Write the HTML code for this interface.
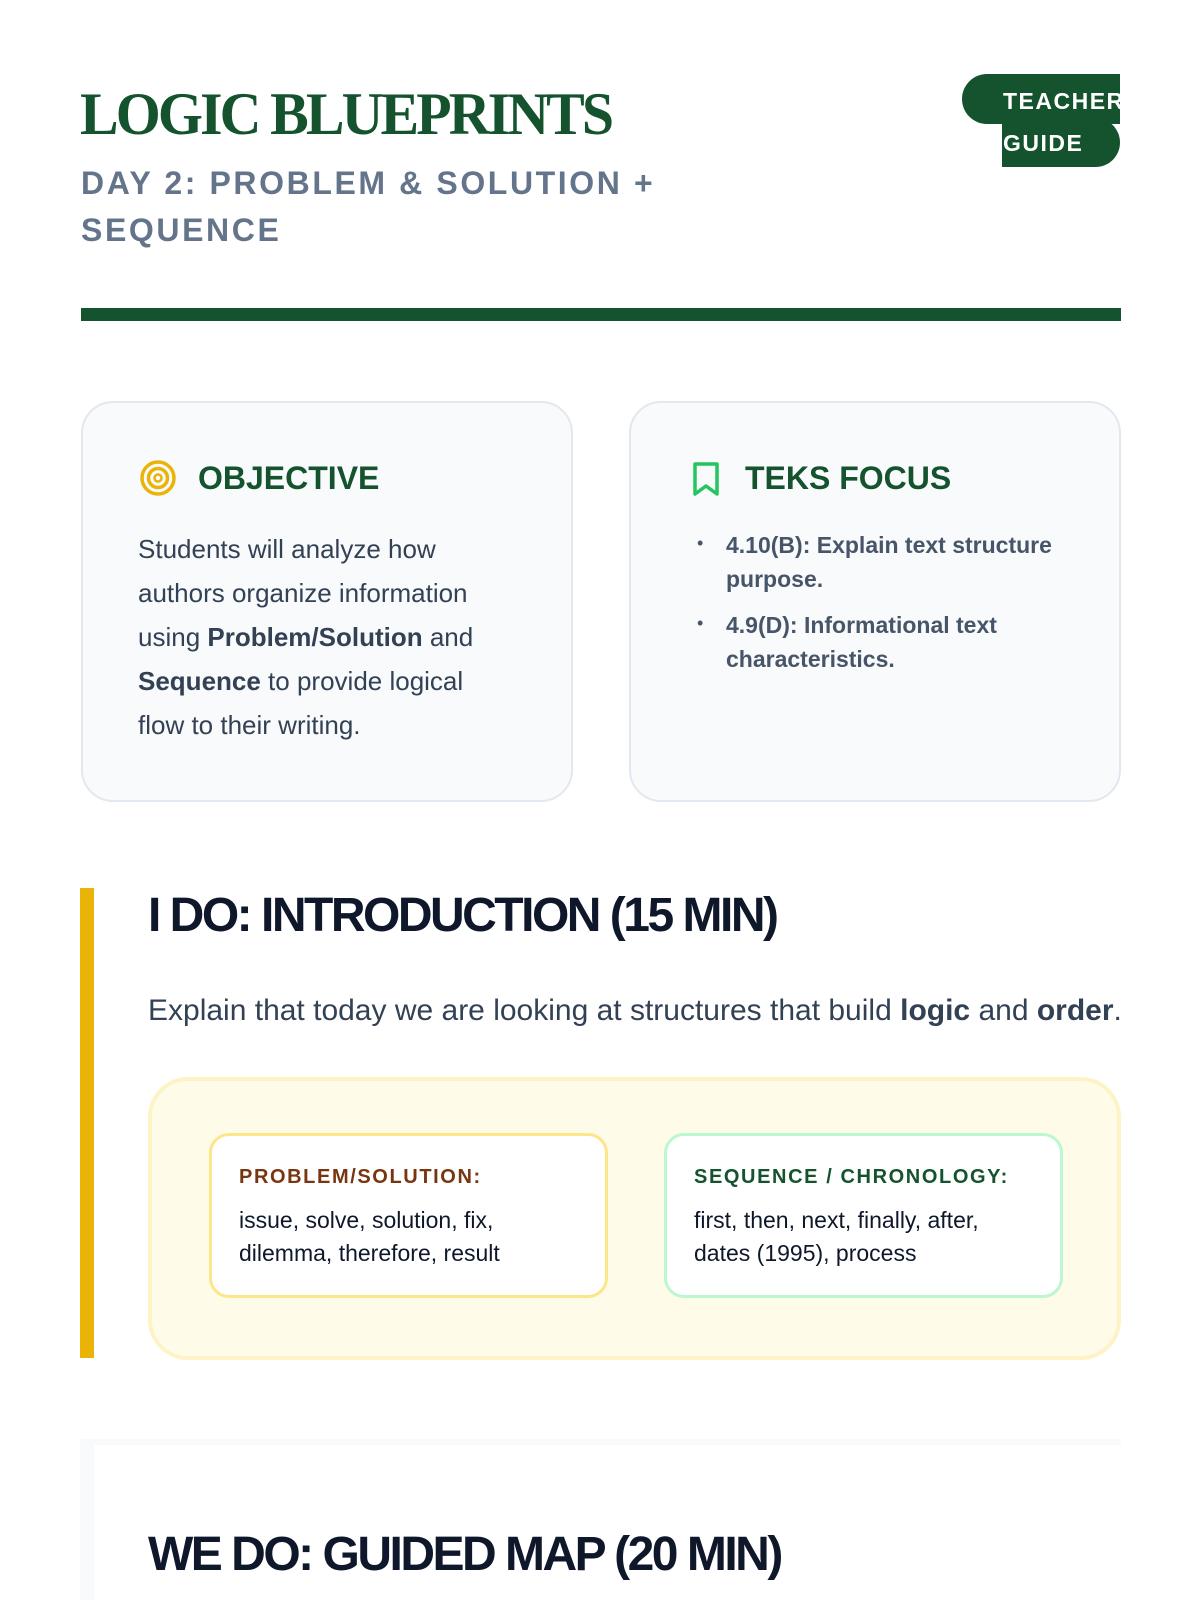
<!DOCTYPE html>
<html><head><meta charset="utf-8"><style>
*{margin:0;padding:0;box-sizing:border-box}
body{width:1200px;height:1600px;background:#fff;position:relative;overflow:hidden;font-family:"Liberation Sans",sans-serif}
.a{position:absolute;white-space:nowrap}
.title{left:80px;top:80px;font-family:"Liberation Serif",serif;font-weight:bold;font-size:60px;color:#14532d;letter-spacing:-3px;transform:scaleX(0.965);transform-origin:left}
.sub{left:81px;font-size:32px;font-weight:bold;color:#64748b;letter-spacing:2.6px}
.card{position:absolute;top:401px;width:492px;height:401px;background:#f8fafc;border:2px solid #e2e8f0;border-radius:32px}
.ch{position:absolute;top:57px;font-size:32px;font-weight:bold;color:#14532d}
.body{font-size:26px;color:#334155;line-height:44px}
.h2{font-size:48px;font-weight:bold;color:#0f172a;letter-spacing:-2.5px}
.ic{position:absolute;top:1133px;width:399px;height:165px;background:#fff;border-radius:20px;border:3px solid #fde68a}
.lab{position:absolute;left:27px;top:30px;font-size:20px;font-weight:bold;letter-spacing:1.6px}
.it{position:absolute;left:27px;top:68px;font-size:23px;color:#0f172a;line-height:33px}
</style></head><body>
<div class="a title">LOGIC BLUEPRINTS</div>
<div class="a sub" style="top:165px">DAY 2: PROBLEM &amp; SOLUTION +</div>
<div class="a sub" style="top:212px">SEQUENCE</div>
<div class="a" style="left:962px;top:74px;width:158px;height:50px;background:#14532d;border-radius:25px 0 0 25px"></div>
<div class="a" style="left:1002px;top:118px;width:118px;height:49px;background:#14532d;border-radius:0 25px 25px 0"></div>
<div class="a" style="left:1003px;top:80px;font-size:23px;font-weight:bold;color:#fff;letter-spacing:1.5px;line-height:42px">TEACHER<br>GUIDE</div>
<div class="a" style="left:81px;top:308px;width:1040px;height:13px;background:#14532d"></div>

<div class="card" style="left:81px">
  <svg class="a" style="left:56px;top:56px" width="38" height="38" viewBox="0 0 38 38"><circle cx="19" cy="19" r="16" fill="none" stroke="#eab308" stroke-width="3.5"/><circle cx="19" cy="19" r="9.5" fill="none" stroke="#eab308" stroke-width="3.5"/><circle cx="19" cy="19" r="3.5" fill="none" stroke="#eab308" stroke-width="2.5"/></svg>
  <div class="ch" style="left:115px">OBJECTIVE</div>
  <div class="a body" style="left:55px;top:124px;white-space:normal;width:355px">Students will analyze how authors organize information using <b>Problem/Solution</b> and <b>Sequence</b> to provide logical flow to their writing.</div>
</div>
<div class="card" style="left:629px">
  <svg class="a" style="left:60px;top:58px" width="30" height="36" viewBox="0 0 30 36"><path d="M4 3h22v30l-11-8-11 8z" fill="none" stroke="#22c55e" stroke-width="3.5" stroke-linejoin="round"/></svg>
  <div class="ch" style="left:114px">TEKS FOCUS</div>
  <div class="a" style="left:66px;top:130px;font-size:18px;color:#475569">•</div>
  <div class="a" style="left:95px;top:125px;font-size:23px;font-weight:bold;color:#475569;line-height:34px">4.10(B): Explain text structure<br>purpose.</div>
  <div class="a" style="left:66px;top:210px;font-size:18px;color:#475569">•</div>
  <div class="a" style="left:95px;top:205px;font-size:23px;font-weight:bold;color:#475569;line-height:34px">4.9(D): Informational text<br>characteristics.</div>
</div>

<div class="a" style="left:80px;top:888px;width:14px;height:470px;background:#eab308"></div>
<div class="a h2" style="left:148px;top:888px">I DO: INTRODUCTION (15 MIN)</div>
<div class="a" style="left:148px;top:994px;font-size:30px;color:#334155">Explain that today we are looking at structures that build <b>logic</b> and <b>order</b>.</div>
<div class="a" style="left:148px;top:1077px;width:973px;height:283px;background:#fefce8;border:4px solid #fef3c7;border-radius:40px"></div>
<div class="ic" style="left:209px">
  <div class="lab" style="color:#78350f">PROBLEM/SOLUTION:</div>
  <div class="it">issue, solve, solution, fix,<br>dilemma, therefore, result</div>
</div>
<div class="ic" style="left:664px;border-color:#bbf7d0">
  <div class="lab" style="color:#14532d">SEQUENCE / CHRONOLOGY:</div>
  <div class="it">first, then, next, finally, after,<br>dates (1995), process</div>
</div>

<div class="a" style="left:80px;top:1439px;width:1041px;height:161px;background:#f8fafc"></div>
<div class="a" style="left:94px;top:1445px;width:1027px;height:155px;background:#fff"></div>
<div class="a h2" style="left:148px;top:1527px">WE DO: GUIDED MAP (20 MIN)</div>
</body></html>
